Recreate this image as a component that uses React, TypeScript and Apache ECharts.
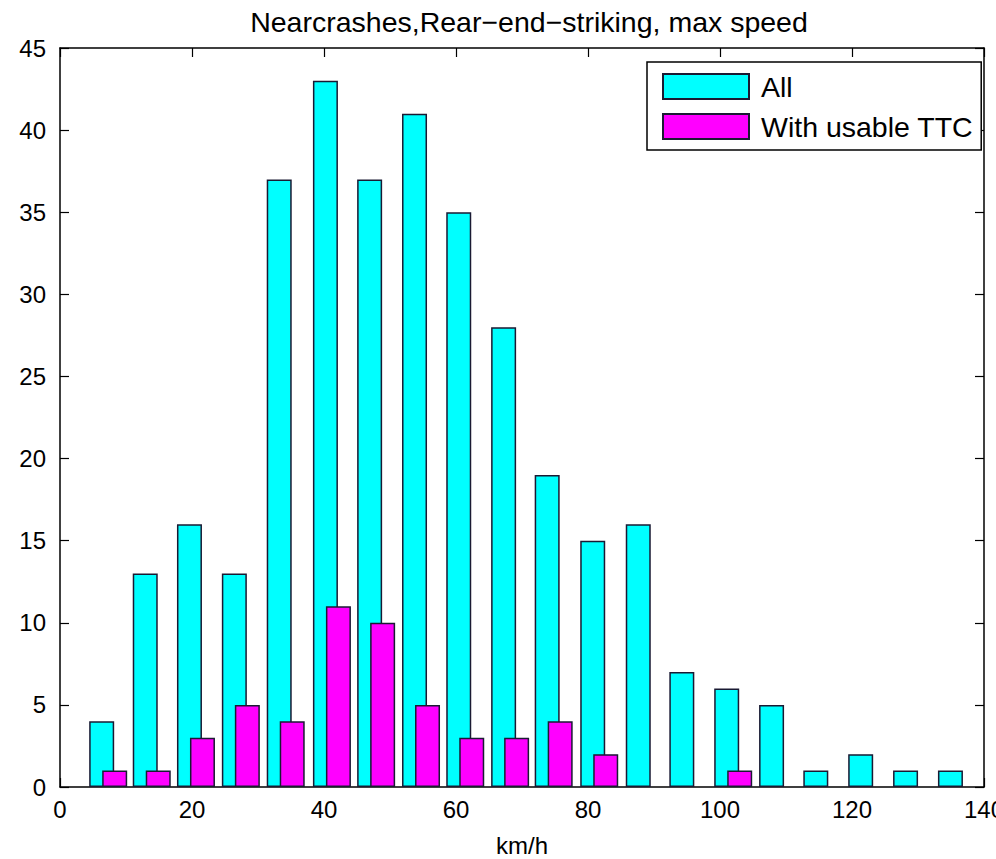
import React, { useEffect, useRef } from "react";
import * as echarts from "echarts";

const binCenters = [7.3, 13.9, 20.6, 27.4, 34.2, 41.2, 47.9, 54.7, 61.4, 68.2, 74.8, 81.7, 88.6, 95.2, 102.0, 108.8, 115.5, 122.3, 129.1, 135.9];
const allCounts = [4, 13, 16, 13, 37, 43, 37, 41, 35, 28, 19, 15, 16, 7, 6, 5, 1, 2, 1, 1];
const ttcCounts = [1, 1, 3, 5, 4, 11, 10, 5, 3, 3, 4, 2, 0, 0, 1, 0, 0, 0, 0, 0];
const xTicks = [0, 20, 40, 60, 80, 100, 120, 140];
const yTicks = [0, 5, 10, 15, 20, 25, 30, 35, 40, 45];

const FONT = "Liberation Sans, Arial, Helvetica, sans-serif";

export default function App() {
  const ref = useRef<HTMLDivElement>(null);
  useEffect(() => {
    if (!ref.current) return;
    const chart = echarts.init(ref.current, null, { renderer: "svg" });
    const border = "#1a1a33";
    chart.setOption({
      animation: false,
      backgroundColor: "#ffffff",
      title: {
        text: "Nearcrashes,Rear\u2212end\u2212striking, max speed",
        left: 524,
        textAlign: "center",
        top: 2,
        textStyle: { fontFamily: FONT, fontSize: 28.5, fontWeight: "normal", color: "#000" },
      },
      legend: {
        orient: "vertical",
        left: 647,
        top: 62,
        padding: [10, 8, 9, 15],
        itemGap: 11,
        itemWidth: 86,
        itemHeight: 25,
        icon: "rect",
        borderColor: "#000",
        borderWidth: 1.5,
        backgroundColor: "#fff",
        textStyle: { fontFamily: FONT, fontSize: 28.5, lineHeight: 25, color: "#000", padding: [0, 0, 0, 7] },
        data: ["All", "With usable TTC"],
      },
      grid: { left: 60, right: 12, top: 48, bottom: 72, show: false, outerBoundsMode: "none", containLabel: false },
      xAxis: [
        {
          type: "value",
          min: 0,
          max: 140,
          interval: 20,
          name: "km/h",
          nameLocation: "middle",
          nameGap: 46,
          nameTextStyle: { fontFamily: FONT, fontSize: 24, color: "#000" },
          axisLine: { show: true, lineStyle: { color: "#000", width: 1.5 } },
          axisTick: { show: true, inside: true, length: 9, lineStyle: { color: "#000", width: 1.2 } },
          axisLabel: {
            fontFamily: FONT, fontSize: 24, color: "#000", margin: 10,
            formatter: (v: number) => (xTicks.includes(v) ? String(v) : ""),
          },
          splitLine: { show: false },
        },
        {
          type: "value",
          position: "top",
          min: 0,
          max: 140,
          interval: 20,
          axisLine: { show: true, onZero: false, lineStyle: { color: "#000", width: 1.5 } },
          axisTick: { show: true, inside: true, length: 9, lineStyle: { color: "#000", width: 1.2 } },
          axisLabel: { show: false },
          splitLine: { show: false },
        },
      ],
      yAxis: [
        {
          type: "value",
          min: 0,
          max: 45,
          interval: 5,
          axisLine: { show: true, lineStyle: { color: "#000", width: 1.5 } },
          axisTick: { show: true, inside: true, length: 9, lineStyle: { color: "#000", width: 1.2 } },
          axisLabel: {
            fontFamily: FONT, fontSize: 24, color: "#000", margin: 14,
            formatter: (v: number) => (yTicks.includes(v) ? String(v) : ""),
          },
          splitLine: { show: false },
        },
        {
          type: "value",
          position: "right",
          min: 0,
          max: 45,
          interval: 5,
          axisLine: { show: true, onZero: false, lineStyle: { color: "#000", width: 1.5 } },
          axisTick: { show: true, inside: true, length: 9, lineStyle: { color: "#000", width: 1.2 } },
          axisLabel: { show: false },
          splitLine: { show: false },
        },
      ],
      series: [
        {
          name: "All",
          type: "bar",
          xAxisIndex: 0,
          yAxisIndex: 0,
          barWidth: 25,
          barGap: "-48%",
          data: binCenters.map((x, i) => [x, allCounts[i]]),
          itemStyle: { color: "#00ffff", borderColor: border, borderWidth: 1.5 },
        },
        {
          name: "With usable TTC",
          type: "bar",
          xAxisIndex: 0,
          yAxisIndex: 0,
          barWidth: 25,
          barGap: "-48%",
          data: binCenters.map((x, i) => [x, ttcCounts[i] === 0 ? "-" : ttcCounts[i]]),
          itemStyle: { color: "#ff00ff", borderColor: border, borderWidth: 1.5 },
        },
      ],
    });
    return () => chart.dispose();
  }, []);
  return (
    <div
      ref={ref}
      style={{ position: "fixed", left: 0, top: 0, width: 996, height: 859 }}
    />
  );
}
